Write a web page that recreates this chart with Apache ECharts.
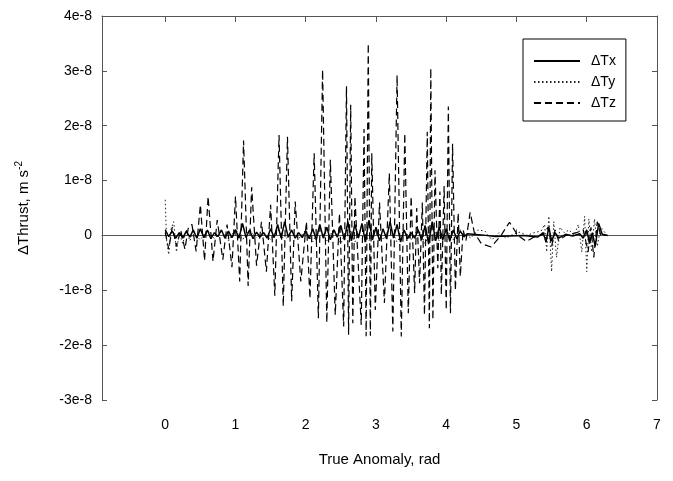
<!DOCTYPE html>
<html>
<head>
<meta charset="utf-8">
<script src="https://cdn.jsdelivr.net/npm/echarts@6/dist/echarts.min.js"></script>
<style>
  html, body { margin: 0; padding: 0; background: #fff; }
  #chart { width: 673px; height: 481px; }
</style>
</head>
<body>
<div id="chart"></div>
<script>
// y values are in units of 1e-8 m s^-2
var xTicks = [0, 1, 2, 3, 4, 5, 6, 7];
var seriesNames = ['\u0394Tx', '\u0394Ty', '\u0394Tz'];

var txX = [0.00, 0.05, 0.10, 0.15, 0.20, 0.25, 0.30, 0.35, 0.40, 0.45, 0.50, 0.55, 0.60, 0.65, 0.70, 0.75, 0.80, 0.85, 0.90, 0.95,
           1.00, 1.05, 1.10, 1.15, 1.20, 1.25, 1.30, 1.35, 1.40, 1.45, 1.50, 1.55, 1.60, 1.65, 1.70, 1.75, 1.80, 1.85, 1.90, 1.95,
           2.00, 2.05, 2.10, 2.15, 2.20, 2.25, 2.30, 2.35, 2.40, 2.45, 2.50, 2.55, 2.60, 2.65, 2.70, 2.75, 2.80, 2.85, 2.90, 2.95,
           3.00, 3.05, 3.10, 3.15, 3.20, 3.25, 3.30, 3.35, 3.40, 3.45, 3.50, 3.55, 3.60, 3.65, 3.70, 3.75, 3.80, 3.85, 3.90, 3.95,
           4.00, 4.05, 4.10, 4.15, 4.20, 4.25, 4.30, 4.50, 4.70, 4.90, 5.10, 5.30, 5.38, 5.42, 5.46, 5.50, 5.55, 5.60, 5.70, 5.80,
           5.90, 5.95, 6.00, 6.04, 6.08, 6.12, 6.17, 6.22, 6.30];
var txY = [0.10, -0.02, 0.08, -0.05, 0.05, -0.05, 0.08, -0.03, 0.10, -0.05, 0.12, -0.04, 0.10, -0.06, 0.05, -0.02, 0.10, -0.05, 0.08, -0.04,
           0.10, -0.05, 0.22, -0.04, 0.10, -0.06, 0.06, -0.03, 0.05, -0.05, 0.12, -0.04, 0.20, -0.05, 0.25, -0.03, 0.10, -0.05, 0.05, -0.04,
           0.08, -0.06, 0.12, -0.08, 0.20, -0.05, 0.15, -0.08, 0.10, -0.03, 0.18, -0.08, 0.25, -0.10, 0.20, -0.05, 0.22, -0.12, 0.28, -0.08,
           0.15, -0.10, 0.12, -0.06, 0.25, -0.05, 0.20, -0.12, 0.10, -0.06, 0.05, -0.05, 0.10, -0.08, 0.18, -0.15, 0.25, -0.10, 0.15, -0.08,
           0.12, -0.10, 0.10, -0.06, 0.08, -0.02, 0.03, 0.01, -0.02, -0.01, 0.00, -0.03, 0.05, -0.12, 0.15, -0.10, 0.05, -0.05, 0.02, -0.01,
           0.03, -0.05, 0.10, -0.15, 0.05, -0.20, 0.22, 0.02, 0.00];

var tyX = [0.00, 0.02, 0.05, 0.08, 0.12, 0.16, 0.20, 0.25, 0.30, 0.35, 0.40, 0.50, 0.60, 0.70, 0.80, 0.90, 1.00, 1.10, 1.20, 1.30,
           1.40, 1.50, 1.60, 1.70, 1.80, 1.90, 2.00, 2.10, 2.20, 2.30, 2.40, 2.50, 2.60, 2.70, 2.80, 2.90, 3.00, 3.10, 3.20, 3.30,
           3.40, 3.50, 3.60, 3.70, 3.80, 3.90, 4.00, 4.10, 4.20, 4.30, 4.35, 4.45, 4.55, 4.65, 4.75, 4.85, 4.95, 5.05, 5.15, 5.25,
           5.35, 5.40, 5.43, 5.46, 5.50, 5.53, 5.57, 5.62, 5.68, 5.75, 5.82, 5.88, 5.93, 5.97, 6.00, 6.03, 6.07, 6.11, 6.15, 6.20, 6.28];
var tyY = [0.65, -0.10, -0.35, 0.10, 0.25, -0.30, 0.05, -0.15, 0.10, -0.10, 0.05, -0.08, 0.10, -0.06, 0.08, -0.10, 0.12, -0.08, 0.10, -0.05,
           0.06, -0.08, 0.12, -0.10, 0.08, -0.06, 0.10, -0.12, 0.15, -0.10, 0.12, -0.15, 0.18, -0.12, 0.15, -0.10, 0.12, -0.08, 0.15, -0.12,
           0.10, -0.08, 0.12, -0.15, 0.18, -0.10, 0.12, -0.08, 0.10, 0.00, -0.05, 0.10, 0.08, -0.08, 0.05, -0.05, 0.02, 0.06, 0.00, 0.05,
           0.08, 0.20, -0.30, 0.35, -0.66, 0.25, -0.40, 0.15, 0.05, 0.10, 0.00, 0.20, -0.30, 0.35, -0.66, 0.30, -0.30, 0.30, -0.20, 0.15, 0.02];

var tzX = [0.00, 0.05, 0.10, 0.16, 0.22, 0.28, 0.33, 0.38, 0.44, 0.50, 0.56, 0.61, 0.68, 0.74, 0.82, 0.88, 0.95, 1.00, 1.06, 1.115,
           1.18, 1.23, 1.30, 1.37, 1.44, 1.50, 1.56, 1.62, 1.68, 1.74, 1.80, 1.85, 1.93, 2.01, 2.06, 2.12, 2.18, 2.24, 2.30, 2.35,
           2.42, 2.48, 2.54, 2.58, 2.61, 2.64, 2.67, 2.70, 2.75, 2.79, 2.83, 2.86, 2.89, 2.92, 2.94, 2.99, 3.05, 3.12, 3.19, 3.24,
           3.30, 3.36, 3.41, 3.46, 3.50, 3.55, 3.58, 3.62, 3.66, 3.69, 3.73, 3.76, 3.78, 3.81, 3.84, 3.88, 3.91, 3.93, 3.97, 4.00,
           4.03, 4.06, 4.09, 4.13, 4.17, 4.20, 4.24, 4.28, 4.34, 4.40, 4.50, 4.64, 4.78, 4.90, 5.02, 5.14, 5.25, 5.35, 5.40, 5.45,
           5.50, 5.55, 5.60, 5.70, 5.85, 5.95, 6.02, 6.06, 6.10, 6.15, 6.20, 6.28];
var tzY = [0.05, -0.25, 0.15, -0.20, 0.10, -0.25, 0.15, 0.20, -0.29, 0.56, -0.46, 0.71, -0.47, 0.28, -0.44, 0.20, -0.58, 0.71, -0.84, 1.73,
           -0.92, 0.88, -0.55, 0.25, -0.66, 0.56, -1.10, 1.83, -1.29, 1.80, -1.20, 0.62, -0.84, 0.25, -1.15, 1.50, -1.51, 3.02, -1.59, 1.38,
           -1.45, 0.40, -1.66, 2.72, -1.81, 2.38, -1.60, 0.71, -0.60, -1.63, 1.94, -1.84, 3.50, -1.83, 1.50, -1.36, 0.60, -1.23, 1.13, -1.75,
           2.92, -1.84, 1.86, -1.42, 0.71, -1.05, 0.50, -0.87, 0.60, -1.45, 1.89, -1.69, 3.05, -1.54, 1.19, -0.60, 0.80, -1.08, 0.90, -1.36,
           2.35, -1.42, 1.67, -1.00, 0.41, -0.75, 0.10, -0.10, 0.42, 0.05, -0.15, -0.21, 0.00, 0.24, 0.00, -0.11, -0.03, 0.00, 0.05, 0.15,
           -0.20, 0.10, -0.10, 0.00, 0.05, 0.10, -0.30, 0.15, -0.40, 0.25, 0.00, 0.00];

function pairs(xs, ys) {
    var out = [];
    for (var i = 0; i < xs.length; i++) out.push([xs[i], ys[i]]);
    return out;
}

var font = 'Liberation Sans, Arial, sans-serif';
var axisColor = '#555';

var chart = echarts.init(document.getElementById('chart'));
chart.setOption({
    backgroundColor: '#fff',
    animation: false,
    grid: { left: 102, right: 16, top: 16, bottom: 81 },
    legend: {
        orient: 'vertical',
        left: 523,
        top: 39,
        padding: [15, 10, 11, 10],
        itemGap: 7,
        itemWidth: 46,
        itemHeight: 14,
        borderColor: '#000',
        borderWidth: 1,
        backgroundColor: '#fff',
        itemStyle: { opacity: 0 },
        textStyle: { fontFamily: font, fontSize: 14, color: '#000', padding: [0, 0, 0, 6] },
        data: seriesNames
    },
    xAxis: [{
        type: 'value',
        min: -0.9,
        max: 7,
        splitLine: { show: false },
        axisLine: { lineStyle: { color: axisColor } },
        axisTick: { inside: true, length: 6, customValues: xTicks, lineStyle: { color: axisColor } },
        axisLabel: { customValues: xTicks, margin: 18, fontFamily: font, fontSize: 14, color: '#000' },
        name: 'True Anomaly, rad',
        nameLocation: 'middle',
        nameGap: 52,
        nameTextStyle: { fontFamily: font, fontSize: 15, color: '#000' }
    }, {
        type: 'value',
        position: 'top',
        min: -0.9,
        max: 7,
        splitLine: { show: false },
        axisLine: { onZero: false, lineStyle: { color: axisColor } },
        axisTick: { inside: true, length: 6, customValues: xTicks, lineStyle: { color: axisColor } },
        axisLabel: { show: false }
    }],
    yAxis: [{
        type: 'value',
        min: -3,
        max: 4,
        interval: 1,
        splitLine: { show: false },
        axisLine: { show: true, onZero: false, lineStyle: { color: axisColor } },
        axisTick: { show: true, inside: true, length: 5, lineStyle: { color: axisColor } },
        axisLabel: {
            margin: 10, fontFamily: font, fontSize: 14, color: '#000',
            formatter: function (v) { return v === 0 ? '0' : v + 'e-8'; }
        },
        name: '{a|\u0394Thrust, m s}{b|-2}',
        nameLocation: 'middle',
        nameGap: 68,
        nameTextStyle: {
            rich: {
                a: { fontFamily: font, fontSize: 15, color: '#000', lineHeight: 20 },
                b: { fontFamily: font, fontSize: 10, color: '#000', verticalAlign: 'top', lineHeight: 20 }
            }
        }
    }, {
        type: 'value',
        position: 'right',
        min: -3,
        max: 4,
        interval: 1,
        splitLine: { show: false },
        axisLine: { show: true, onZero: false, lineStyle: { color: axisColor } },
        axisTick: { show: true, inside: true, length: 5, lineStyle: { color: axisColor } },
        axisLabel: { show: false }
    }],
    series: [{
        name: seriesNames[0],
        type: 'line',
        symbol: 'none',
        z: 4,
        lineStyle: { color: '#000', width: 1.5, type: 'solid' },
        itemStyle: { color: '#000' },
        data: pairs(txX, txY)
    }, {
        name: seriesNames[1],
        type: 'line',
        symbol: 'none',
        z: 3,
        lineStyle: { color: '#222', width: 1, type: [1.5, 2.5] },
        itemStyle: { color: '#222' },
        data: pairs(tyX, tyY)
    }, {
        name: seriesNames[2],
        type: 'line',
        symbol: 'none',
        z: 2,
        lineStyle: { color: '#000', width: 1.2, type: [7, 4] },
        itemStyle: { color: '#000' },
        data: pairs(tzX, tzY)
    }]
});
</script>
</body>
</html>
